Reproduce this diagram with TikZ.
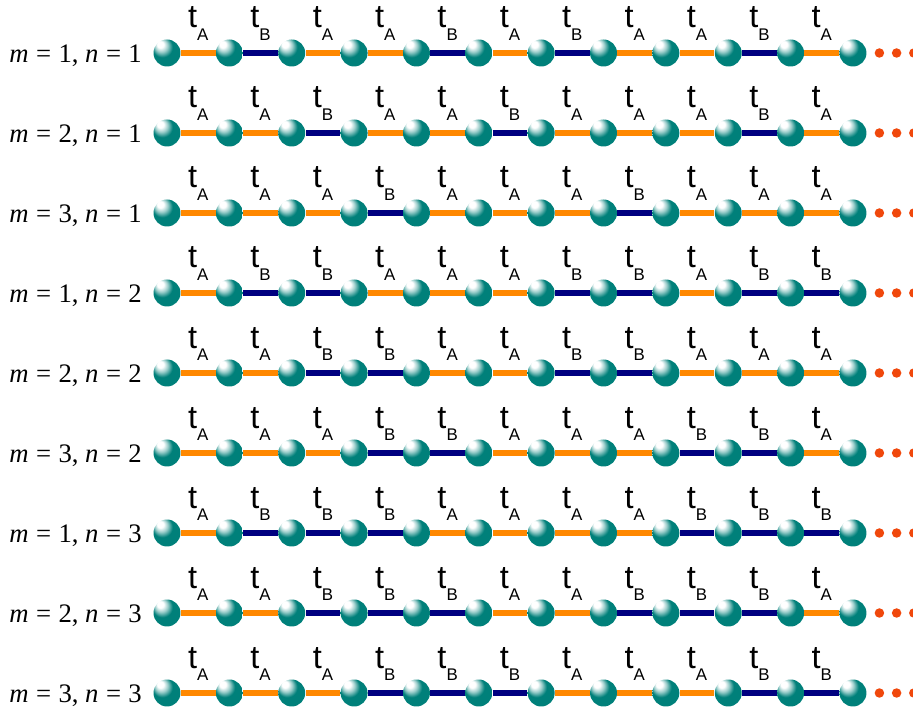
\documentclass[tikz,border=0pt]{standalone}
\usepackage{fontspec}
\setmainfont{Liberation Serif}
\newfontfamily\hopfont{Liberation Sans}
\usetikzlibrary{positioning}

\definecolor{siteteal}{RGB}{0,128,122}
\definecolor{bondA}{RGB}{255,136,0}
\definecolor{bondB}{RGB}{0,0,128}
\definecolor{trailred}{RGB}{240,72,12}

\pgfdeclareradialshading{siteball}{\pgfqpoint{-14bp}{18bp}}{%
  color(0bp)=(white); color(6bp)=(white); color(12bp)=(siteteal!40!white);
  color(19bp)=(siteteal); color(40bp)=(siteteal); color(50bp)=(siteteal!78!black)}

\tikzset{
  site/.style={circle, inner sep=0pt, minimum size=0.54cm, shading=siteball},
  hop/.style={draw=bond#1, line width=3.3pt},
  hoplabel/.style={anchor=base, inner sep=0pt, yshift=0.5cm, font=\hopfont},
  trail/.style={circle, fill=trailred, inner sep=0pt, minimum size=0.19cm},
  rowlabel/.style={anchor=base west, inner sep=0pt, font=\fontsize{15.2}{17}\selectfont}
}

\newcommand{\hopterm}[1]{{\fontsize{18.5}{19}\selectfont t}\raisebox{-7pt}{\fontsize{9.6}{10}\selectfont #1}}
\newcommand{\mnlabel}[2]{\textit{m}\;=\;#1, \textit{n}\;=\;#2}

\begin{document}
\begin{tikzpicture}[x=0.02cm, y=0.02cm, node distance=0.15cm]
\useasboundingbox (0,0) rectangle (913,710);

\foreach \m/\n/\seq [count=\r] in {
  1/1/{A,B,A,A,B,A,B,A,A,B,A},
  2/1/{A,A,B,A,A,B,A,A,A,B,A},
  3/1/{A,A,A,B,A,A,A,B,A,A,A},
  1/2/{A,B,B,A,A,A,B,B,A,B,B},
  2/2/{A,A,B,B,A,A,B,B,A,A,A},
  3/2/{A,A,A,B,B,A,A,A,B,B,A},
  1/3/{A,B,B,B,A,A,A,A,B,B,B},
  2/3/{A,A,B,B,B,A,A,B,B,B,A},
  3/3/{A,A,A,B,B,B,A,A,A,B,B}} {
  \pgfmathsetmacro\y{657-80*(\r-1)}
  \node[rowlabel] (row\r) at (9,\y-10) {\mnlabel{\m}{\n}};
  \foreach \i in {1,...,12}
    \node[site] (s\r-\i) at ({167+62.36*(\i-1)},\y) {};
  \foreach \b [count=\i] in \seq {
    \pgfmathtruncatemacro\j{\i+1}
    \draw[hop=\b] (s\r-\i) -- node[hoplabel] (t\r-\i) {\hopterm{\b}} (s\r-\j);
  }
  \node[trail, right=of s\r-12] (d\r-1) {};
  \node[trail, right=0.14cm of d\r-1] (d\r-2) {};
  \node[trail, right=0.14cm of d\r-2] (d\r-3) {};
}

\end{tikzpicture}
\end{document}
